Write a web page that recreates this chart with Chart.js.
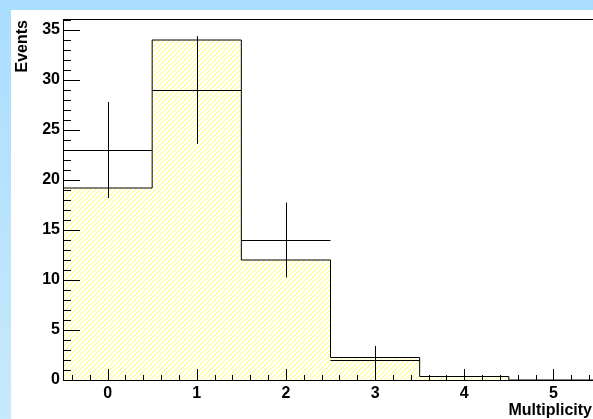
<!DOCTYPE html>
<html>
<head>
<meta charset="utf-8">
<script src="https://cdn.jsdelivr.net/npm/chart.js@4"></script>
<style>
  html, body { margin: 0; padding: 0; width: 593px; height: 419px; overflow: hidden; }
  body { background: linear-gradient(#a9ddff, #c8e9fb); position: relative; }
  #pad { position: absolute; left: 11px; top: 10px; width: 590px; height: 409px; background: #fff; }
  #histChart { position: absolute; left: 0; top: 0; }
</style>
</head>
<body>
<div id="pad"></div>
<canvas id="histChart" width="598" height="419"></canvas>
<script>
// Bin centres and contents
const bins = [0, 1, 2, 3, 4, 5];
const histValues = [19.2, 34, 12, 2.25, 0.35, 0];
const dataValues = [23, 29, 14, 2, 0, 0];
const dataErrors = [4.8, 5.39, 3.74, 1.41, 0, 0];
const xTickLabels = [0, 1, 2, 3, 4, 5];
const yTickLabels = [0, 5, 10, 15, 20, 25, 30, 35];

// Yellow diagonal hatch like ROOT fill style 3004
function makeHatch() {
    const s = 5;
    const c = document.createElement('canvas');
    c.width = s; c.height = s;
    const g = c.getContext('2d');
    g.strokeStyle = '#ffff30';
    g.lineWidth = 0.8;
    g.beginPath();
    g.moveTo(-1, s + 1); g.lineTo(s + 1, -1);
    g.moveTo(-1, 1); g.lineTo(1, -1);
    g.moveTo(s - 1, s + 1); g.lineTo(s + 1, s - 1);
    g.stroke();
    return g.createPattern(c, 'repeat');
}

// Stepped outline: one point per low edge, plus closing edge
const outline = bins.map((b, i) => ({ x: b - 0.5, y: histValues[i] }));
outline.push({ x: bins[bins.length - 1] + 0.5, y: 0 });

// Frame, ROOT-style ticks, error crosses and axis titles
const rootStyle = {
    id: 'rootStyle',
    afterDatasetsDraw(chart) {
        const { ctx, chartArea: a, scales: { x, y } } = chart;
        ctx.save();
        ctx.strokeStyle = '#000';
        ctx.lineWidth = 1;

        // data points with errors
        ctx.beginPath();
        bins.forEach((b, i) => {
            if (dataValues[i] <= 0) return;
            const py = Math.round(y.getPixelForValue(dataValues[i])) + 0.5;
            const px = Math.round(x.getPixelForValue(b)) + 0.5;
            ctx.moveTo(x.getPixelForValue(b - 0.5), py);
            ctx.lineTo(x.getPixelForValue(b + 0.5), py);
            ctx.moveTo(px, y.getPixelForValue(dataValues[i] + dataErrors[i]));
            ctx.lineTo(px, y.getPixelForValue(dataValues[i] - dataErrors[i]));
        });
        ctx.stroke();

        // ticks
        ctx.beginPath();
        for (let v = 0; v <= 36; v++) {
            const py = Math.round(y.getPixelForValue(v)) + 0.5;
            const len = v % 5 === 0 ? 17 : 8;
            ctx.moveTo(a.left, py);
            ctx.lineTo(a.left + len, py);
        }
        for (let k = -2; k <= 27; k++) {
            const v = k / 5;
            const px = Math.round(x.getPixelForValue(v)) + 0.5;
            const len = k % 5 === 0 ? 11 : 5;
            ctx.moveTo(px, a.bottom);
            ctx.lineTo(px, a.bottom - len);
        }
        ctx.stroke();

        // frame
        ctx.strokeRect(Math.round(a.left) + 0.5, Math.round(a.top) + 0.5,
            Math.round(a.right - a.left), Math.round(a.bottom - a.top));

        // axis titles
        ctx.fillStyle = '#000';
        ctx.font = 'bold 16px "Liberation Sans", Arial, sans-serif';
        ctx.textAlign = 'right';
        ctx.textBaseline = 'alphabetic';
        ctx.fillText('Multiplicity', 592, 415);
        ctx.translate(26.5, 20);
        ctx.rotate(-Math.PI / 2);
        ctx.fillText('Events', 0, 0);
        ctx.restore();
    }
};

new Chart(document.getElementById('histChart'), {
    type: 'line',
    data: {
        datasets: [{
            data: outline,
            stepped: 'before',
            fill: 'origin',
            backgroundColor: makeHatch(),
            borderColor: '#000',
            borderWidth: 1,
            pointRadius: 0,
            tension: 0
        }]
    },
    options: {
        responsive: false,
        animation: false,
        events: [],
        layout: { padding: { top: 19, left: 0, right: 0, bottom: 0 } },
        plugins: { legend: { display: false }, tooltip: { enabled: false } },
        scales: {
            x: {
                type: 'linear',
                min: -0.5,
                max: 5.5,
                afterBuildTicks: s => { s.ticks = xTickLabels.map(v => ({ value: v })); },
                afterFit: s => { s.height = 39; },
                grid: { display: false, drawTicks: false },
                border: { display: false },
                ticks: {
                    padding: 4,
                    color: '#000',
                    maxRotation: 0,
                    autoSkip: false,
                    font: { family: '"Liberation Sans", Arial, sans-serif', size: 16, weight: 'bold' }
                }
            },
            y: {
                min: 0,
                max: 36.1,
                afterBuildTicks: s => { s.ticks = yTickLabels.map(v => ({ value: v })); },
                afterFit: s => { s.width = 63; },
                grid: { display: false, drawTicks: false },
                border: { display: false },
                ticks: {
                    padding: 3,
                    color: '#000',
                    autoSkip: false,
                    font: { family: '"Liberation Sans", Arial, sans-serif', size: 16, weight: 'bold' }
                }
            }
        }
    },
    plugins: [rootStyle]
});
</script>
</body>
</html>
